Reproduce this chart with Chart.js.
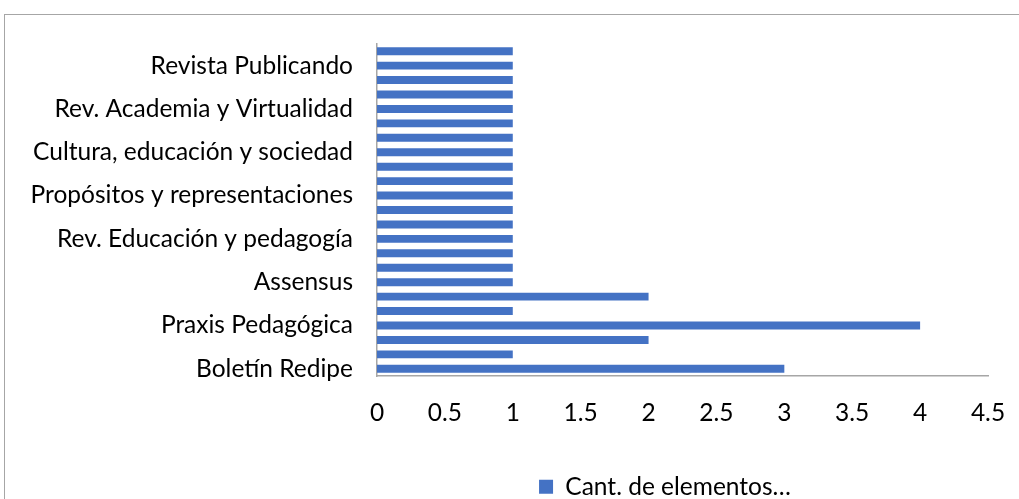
<!DOCTYPE html>
<html>
<head>
<meta charset="utf-8">
<script src="https://cdn.jsdelivr.net/npm/chart.js@4"></script>
<style>
  body { margin: 0; overflow: hidden; background: #fff; }
  #box { position: absolute; left: 4px; top: 14px; width: 1330px; height: 510px; border: 1px solid #a6a6a6; }
  #chart { position: absolute; left: 0; top: 0; }
</style>
</head>
<body>
<div id="box"><canvas id="chart" width="1320" height="494"></canvas></div>
<script>
// categories listed bottom to top, only every third name is printed on the axis
const categories = [
    'Boletín Redipe', '', '',
    'Praxis Pedagógica', '', '',
    'Assensus', '', '',
    'Rev. Educación y pedagogía', '', '',
    'Propósitos y representaciones', '', '',
    'Cultura, educación y sociedad', '', '',
    'Rev. Academia y Virtualidad', '', '',
    'Revista Publicando', ''
];
const counts = [3, 1, 2, 4, 1, 2, 1, 1, 1, 1, 1, 1, 1, 1, 1, 1, 1, 1, 1, 1, 1, 1, 1];
const seriesName = 'Cant. de elementos…';
const xMax = 4.5;
const xStep = 0.5;

const font = { family: 'Lato', size: 24.5 };

document.addEventListener('DOMContentLoaded', () => {
    const ctx = document.getElementById('chart').getContext('2d');

    new Chart(ctx, {
        type: 'bar',
        data: {
            labels: categories,
            datasets: [{
                label: seriesName,
                data: counts,
                backgroundColor: '#4472c4',
                categoryPercentage: 1,
                barPercentage: 0.55
            }]
        },
        options: {
            indexAxis: 'y',
            responsive: false,
            animation: false,
            layout: { padding: { top: 29, left: 0, right: 0, bottom: 0 } },
            scales: {
                y: {
                    reverse: true,
                    grid: { display: false, drawTicks: false },
                    border: { color: '#a6a6a6', width: 1.5 },
                    ticks: { autoSkip: false, color: '#000', font: font, padding: 24 },
                    afterFit: s => { s.width = 372; s.paddingTop = 0; s.paddingBottom = 0; }
                },
                x: {
                    min: 0,
                    max: xMax,
                    grid: { display: false, drawTicks: false },
                    border: { color: '#a6a6a6', width: 1.5 },
                    ticks: { stepSize: xStep, color: '#000', font: font, padding: 22, callback: v => String(v) },
                    afterFit: s => { s.height = 88.5; }
                },
                // empty space on the right, the original frame is wider than the view
                pad: {
                    type: 'linear',
                    position: 'right',
                    grid: { display: false },
                    border: { display: false },
                    ticks: { display: false },
                    afterFit: s => { s.width = 337; }
                }
            },
            plugins: {
                legend: {
                    position: 'bottom',
                    labels: { color: '#000', font: font, boxWidth: 14, boxHeight: 14, padding: 10 }
                },
                tooltip: { enabled: false }
            }
        }
    });
});
</script>
</body>
</html>
